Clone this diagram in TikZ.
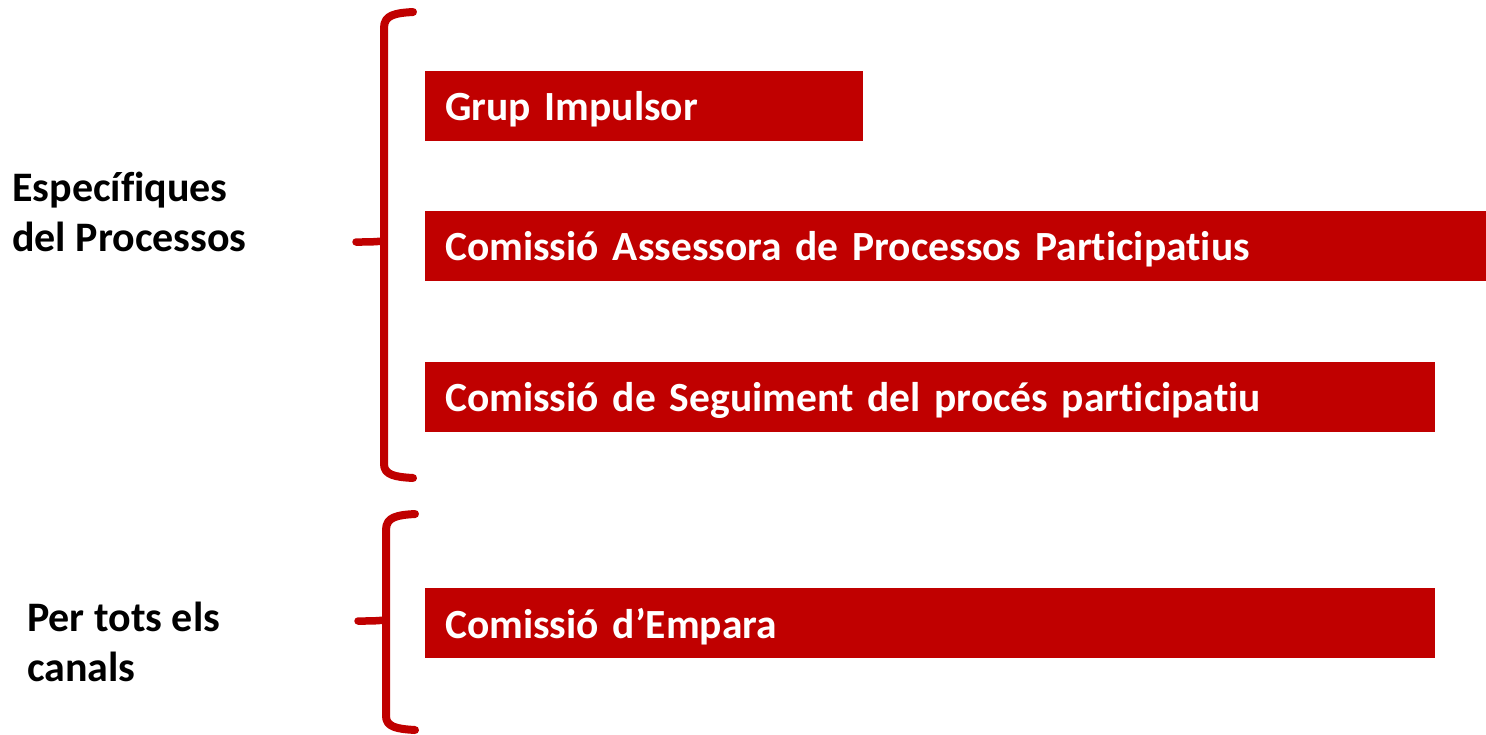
\documentclass[tikz,border=0pt]{standalone}
\usepackage{fontspec}
\setmainfont{Carlito}[Ligatures={NoCommon}]
\definecolor{boxred}{HTML}{C00000}
\newcommand{\lowertext}[1]{\raisebox{-3pt}[\height][\depth]{#1}}
\tikzset{
  redbox/.style={fill=boxred, text=white, font=\bfseries\fontsize{41.5}{44}\selectfont,
    minimum height=70pt, inner xsep=20pt, inner ysep=0pt, anchor=north west, align=left},
  sidelabel/.style={font=\bfseries\fontsize{42}{50}\selectfont, align=left, anchor=west, inner sep=0pt},
  bracepath/.style={draw=boxred, line width=8pt, line cap=round, line join=round},
  bracestub/.style={draw=boxred, line width=7.5pt, line cap=round}
}
\begin{document}
\begin{tikzpicture}[x=1pt,y=-1pt]
\useasboundingbox (0,0) rectangle (1486,734);
% boxes
\node[redbox, text width=398pt] (b1) at (425,71) {\lowertext{Grup Impulsor}};
\node[redbox, text width=1021pt] (b2) at (425,211) {\lowertext{Comissió Assessora de Processos Participatius}};
\node[redbox, text width=970pt] (b3) at (425,362) {\lowertext{Comissió de Seguiment del procés participatiu}};
\node[redbox, text width=970pt] (b4) at (425,588) {\lowertext{Comissió d’Empara}};
% labels
\node[sidelabel] (l1) at (12,212) {Específiques\\del Processos};
\node[sidelabel] (l2) at (27,642) {Per tots els\\canals};
% brace 1
\draw[bracepath] (413,12) .. controls (395,13) and (384,15) .. (384,28) -- (384,464) .. controls (384,475) and (395,477) .. (413,478);
\draw[bracestub] (383,241) .. controls (372,242) .. (356,242);
% brace 2
\draw[bracepath] (415,514) .. controls (397,515) and (386,517) .. (386,530) -- (386,716) .. controls (386,727) and (397,729) .. (415,730);
\draw[bracestub] (385,620) .. controls (374,621) .. (358,621);
\end{tikzpicture}
\end{document}
